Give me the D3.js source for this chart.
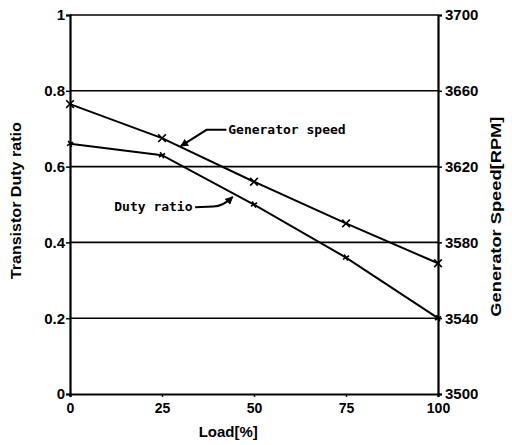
<!DOCTYPE html>
<html>
<head>
<meta charset="utf-8">
<script src="https://cdn.jsdelivr.net/npm/d3@7"></script>
<style>
body { margin: 0; background: #fff; }
text { font-family: "Liberation Sans", Arial, sans-serif; font-weight: bold; fill: #000; }
.note { font-family: "DejaVu Sans Mono", monospace; font-size: 13px; }
</style>
</head>
<body>
<div id="chart"></div>
<script>
// data
var load = [0, 25, 50, 75, 100];
var dutyRatio = [0.66, 0.63, 0.50, 0.36, 0.20];
var genSpeed = [3653, 3635, 3612, 3590, 3569];
var xTicks = [0, 25, 50, 75, 100];
var leftTicks = [0, 0.2, 0.4, 0.6, 0.8, 1];
var rightTicks = [3500, 3540, 3580, 3620, 3660, 3700];

var width = 512;
var height = 445;
var padding = {top: 15, right: 74, bottom: 51, left: 70};
var w = width - padding.left - padding.right;
var h = height - padding.top - padding.bottom;

var svg = d3.select('#chart')
    .append('svg')
    .attr('width', width)
    .attr('height', height);

var g = svg.append('g')
    .attr('transform', 'translate(' + padding.left + ',' + padding.top + ')');

var xScale = d3.scaleLinear().domain([0, 100]).range([0, w]);
var yScale = d3.scaleLinear().domain([0, 1]).range([h, 0]);
var y2Scale = d3.scaleLinear().domain([3500, 3700]).range([h, 0]);

// grid lines
g.append('g')
    .selectAll('line')
    .data(leftTicks.slice(1))
    .enter()
    .append('line')
    .attr('x1', 0)
    .attr('x2', w)
    .attr('y1', function (d) { return yScale(d); })
    .attr('y2', function (d) { return yScale(d); })
    .attr('stroke', '#000')
    .attr('stroke-width', 1.6);

// axes
var xAxis = d3.axisBottom(xScale).tickValues(xTicks).tickSize(3).tickFormat(d3.format('d'));
var yAxis = d3.axisLeft(yScale).tickValues(leftTicks).tickSize(4)
    .tickFormat(function (d) { return d === 0 || d === 1 ? d : d3.format('.1f')(d); });
var y2Axis = d3.axisRight(y2Scale).tickValues(rightTicks).tickSize(4).tickFormat(d3.format('d'));

function styleAxis(sel) {
    sel.select('.domain').attr('stroke-width', 2.2);
    sel.selectAll('.tick line').attr('stroke-width', 1.5);
    sel.selectAll('.tick text').style('font-size', '15px').attr('fill', '#000');
}

g.append('g')
    .attr('transform', 'translate(0,' + h + ')')
    .call(xAxis)
    .call(styleAxis)
    .selectAll('.tick text').attr('dy', '0.9em').style('font-size', '14px');
g.append('g')
    .call(yAxis)
    .call(styleAxis)
    .selectAll('.tick text').attr('x', -5);
g.append('g')
    .attr('transform', 'translate(' + w + ',0)')
    .call(y2Axis)
    .call(styleAxis)
    .selectAll('.tick text').attr('x', 7);

// axis titles
g.append('text')
    .attr('x', xScale(43))
    .attr('y', h + 43)
    .attr('text-anchor', 'middle')
    .style('font-size', '15px')
    .text('Load[%]');
svg.append('text')
    .attr('transform', 'translate(21,' + (padding.top + yScale(0.51)) + ') rotate(-90)')
    .attr('text-anchor', 'middle')
    .attr('textLength', 157)
    .attr('lengthAdjust', 'spacingAndGlyphs')
    .style('font-size', '14px')
    .text('Transistor Duty ratio');
svg.append('text')
    .attr('transform', 'translate(501,' + (padding.top + yScale(0.468)) + ') rotate(-90)')
    .attr('text-anchor', 'middle')
    .attr('textLength', 200)
    .attr('lengthAdjust', 'spacingAndGlyphs')
    .style('font-size', '14px')
    .text('Generator Speed[RPM]');

// lines
var dutyLine = d3.line()
    .x(function (d, i) { return xScale(load[i]); })
    .y(function (d) { return yScale(d); });
var genLine = d3.line()
    .x(function (d, i) { return xScale(load[i]); })
    .y(function (d) { return y2Scale(d); });

g.append('path')
    .attr('d', dutyLine(dutyRatio))
    .attr('fill', 'none')
    .attr('stroke', '#000')
    .attr('stroke-width', 2);
g.append('path')
    .attr('d', genLine(genSpeed))
    .attr('fill', 'none')
    .attr('stroke', '#000')
    .attr('stroke-width', 2);

// markers
g.append('g')
    .selectAll('path')
    .data(dutyRatio)
    .enter()
    .append('path')
    .attr('d', d3.symbol().type(d3.symbolTimes).size(18))
    .attr('transform', function (d, i) {
        return 'translate(' + xScale(load[i]) + ',' + yScale(d) + ') rotate(15)';
    })
    .attr('fill', 'none')
    .attr('stroke', '#000')
    .attr('stroke-width', 1.6);
g.append('g')
    .selectAll('path')
    .data(genSpeed)
    .enter()
    .append('path')
    .attr('d', d3.symbol().type(d3.symbolTimes).size(40))
    .attr('transform', function (d, i) {
        return 'translate(' + xScale(load[i]) + ',' + y2Scale(d) + ')';
    })
    .attr('fill', 'none')
    .attr('stroke', '#000')
    .attr('stroke-width', 1.6);

// annotations
svg.append('defs').append('marker')
    .attr('id', 'arrow')
    .attr('viewBox', '0 0 10 10')
    .attr('refX', 9)
    .attr('refY', 5)
    .attr('markerUnits', 'userSpaceOnUse')
    .attr('markerWidth', 9)
    .attr('markerHeight', 8)
    .attr('orient', 'auto')
    .append('path')
    .attr('d', 'M0,0L10,5L0,10z')
    .attr('fill', '#000');

g.append('path')
    .attr('d', 'M' + xScale(42.5) + ',' + yScale(0.697) + 'L' + xScale(37.1) + ',' + yScale(0.697) +
        'L' + xScale(30.1) + ',' + yScale(0.654))
    .attr('fill', 'none')
    .attr('stroke', '#000')
    .attr('stroke-width', 2)
    .attr('marker-end', 'url(#arrow)');
g.append('text')
    .attr('class', 'note')
    .attr('x', xScale(43))
    .attr('y', yScale(0.697) + 4)
    .text('Generator speed');

g.append('path')
    .attr('d', 'M' + xScale(34) + ',' + yScale(0.493) + 'L' + xScale(39) + ',' + yScale(0.495) +
        'Q' + xScale(41.5) + ',' + yScale(0.495) + ' ' + xScale(44.2) + ',' + yScale(0.52))
    .attr('fill', 'none')
    .attr('stroke', '#000')
    .attr('stroke-width', 2)
    .attr('marker-end', 'url(#arrow)');
g.append('text')
    .attr('class', 'note')
    .attr('x', xScale(33.3))
    .attr('y', yScale(0.493) + 4)
    .attr('text-anchor', 'end')
    .text('Duty ratio');
</script>
</body>
</html>
